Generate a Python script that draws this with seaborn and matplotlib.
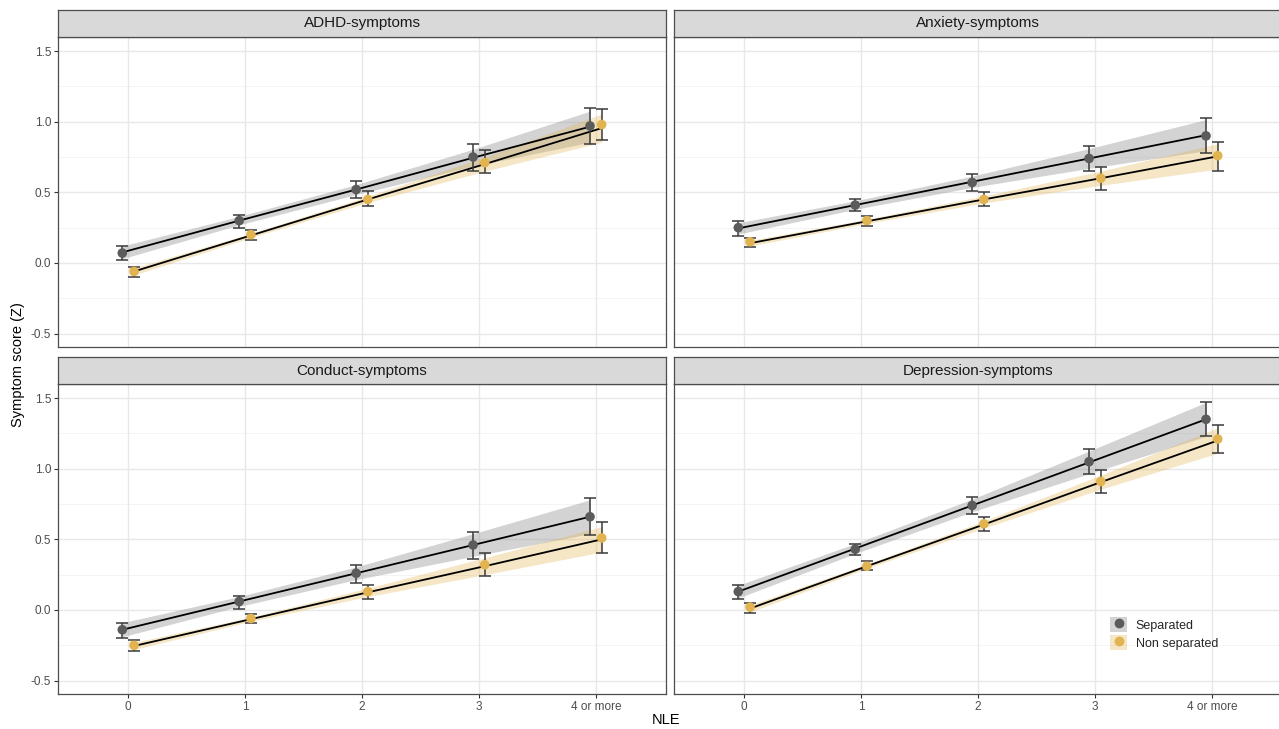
import numpy as np
import pandas as pd
import matplotlib
matplotlib.use("Agg")
import matplotlib.pyplot as plt
from matplotlib.patches import Patch
from matplotlib.lines import Line2D
from matplotlib.legend_handler import HandlerTuple
import seaborn as sns

# ---------------- data ----------------
nle_labels = ["0", "1", "2", "3", "4 or more"]
outcomes = ["ADHD-symptoms", "Anxiety-symptoms", "Conduct-symptoms", "Depression-symptoms"]
groups = ["Separated", "Non separated"]

# observed means and 95% CI (error bars)
adhd_sep_mean = [0.07, 0.30, 0.52, 0.75, 0.97]
adhd_sep_lo = [0.02, 0.25, 0.46, 0.65, 0.84]
adhd_sep_hi = [0.12, 0.34, 0.58, 0.84, 1.10]
adhd_non_mean = [-0.06, 0.20, 0.45, 0.71, 0.98]
adhd_non_lo = [-0.10, 0.16, 0.40, 0.64, 0.87]
adhd_non_hi = [-0.03, 0.23, 0.51, 0.80, 1.09]

anx_sep_mean = [0.25, 0.41, 0.57, 0.74, 0.90]
anx_sep_lo = [0.19, 0.37, 0.51, 0.65, 0.78]
anx_sep_hi = [0.30, 0.45, 0.63, 0.83, 1.03]
anx_non_mean = [0.15, 0.30, 0.45, 0.60, 0.76]
anx_non_lo = [0.11, 0.26, 0.40, 0.52, 0.65]
anx_non_hi = [0.18, 0.33, 0.50, 0.68, 0.86]

cond_sep_mean = [-0.14, 0.06, 0.26, 0.46, 0.66]
cond_sep_lo = [-0.20, 0.01, 0.19, 0.36, 0.53]
cond_sep_hi = [-0.09, 0.10, 0.32, 0.55, 0.79]
cond_non_mean = [-0.25, -0.06, 0.13, 0.32, 0.51]
cond_non_lo = [-0.29, -0.09, 0.08, 0.24, 0.40]
cond_non_hi = [-0.21, -0.03, 0.18, 0.40, 0.62]

dep_sep_mean = [0.13, 0.43, 0.74, 1.05, 1.35]
dep_sep_lo = [0.08, 0.39, 0.68, 0.96, 1.23]
dep_sep_hi = [0.18, 0.47, 0.80, 1.14, 1.47]
dep_non_mean = [0.02, 0.31, 0.61, 0.91, 1.21]
dep_non_lo = [-0.02, 0.28, 0.56, 0.83, 1.11]
dep_non_hi = [0.05, 0.35, 0.66, 0.99, 1.31]

# fitted linear trend and its CI half-width at each NLE level
adhd_sep_fit = [0.075, 0.30, 0.52, 0.745, 0.965]
adhd_sep_ci = [0.045, 0.03, 0.035, 0.06, 0.11]
adhd_non_fit = [-0.06, 0.195, 0.45, 0.70, 0.955]
adhd_non_ci = [0.025, 0.015, 0.022, 0.05, 0.10]

anx_sep_fit = [0.245, 0.41, 0.575, 0.74, 0.905]
anx_sep_ci = [0.04, 0.03, 0.04, 0.07, 0.11]
anx_non_fit = [0.14, 0.295, 0.45, 0.60, 0.755]
anx_non_ci = [0.02, 0.015, 0.025, 0.05, 0.09]

cond_sep_fit = [-0.14, 0.06, 0.26, 0.46, 0.66]
cond_sep_ci = [0.05, 0.035, 0.045, 0.08, 0.12]
cond_non_fit = [-0.255, -0.065, 0.125, 0.31, 0.50]
cond_non_ci = [0.025, 0.015, 0.03, 0.06, 0.09]

dep_sep_fit = [0.13, 0.435, 0.74, 1.045, 1.35]
dep_sep_ci = [0.045, 0.035, 0.045, 0.08, 0.12]
dep_non_fit = [0.01, 0.31, 0.605, 0.905, 1.20]
dep_non_ci = [0.025, 0.015, 0.025, 0.05, 0.09]

y_ticks = [-0.5, 0.0, 0.5, 1.0, 1.5]
y_tick_labels = ["-0.5", "0.0", "0.5", "1.0", "1.5"]

# ---------------- assemble ----------------
series = {
    ("ADHD-symptoms", "Separated"): (adhd_sep_mean, adhd_sep_lo, adhd_sep_hi, adhd_sep_fit, adhd_sep_ci),
    ("ADHD-symptoms", "Non separated"): (adhd_non_mean, adhd_non_lo, adhd_non_hi, adhd_non_fit, adhd_non_ci),
    ("Anxiety-symptoms", "Separated"): (anx_sep_mean, anx_sep_lo, anx_sep_hi, anx_sep_fit, anx_sep_ci),
    ("Anxiety-symptoms", "Non separated"): (anx_non_mean, anx_non_lo, anx_non_hi, anx_non_fit, anx_non_ci),
    ("Conduct-symptoms", "Separated"): (cond_sep_mean, cond_sep_lo, cond_sep_hi, cond_sep_fit, cond_sep_ci),
    ("Conduct-symptoms", "Non separated"): (cond_non_mean, cond_non_lo, cond_non_hi, cond_non_fit, cond_non_ci),
    ("Depression-symptoms", "Separated"): (dep_sep_mean, dep_sep_lo, dep_sep_hi, dep_sep_fit, dep_sep_ci),
    ("Depression-symptoms", "Non separated"): (dep_non_mean, dep_non_lo, dep_non_hi, dep_non_fit, dep_non_ci),
}
dodge = {"Separated": -0.05, "Non separated": 0.05}
rows = []
for (outc, grp), (m, lo, hi, fit, ci) in series.items():
    for i, lab in enumerate(nle_labels):
        rows.append(dict(outcome=outc, group=grp, nle=lab, x=i + dodge[grp],
                         mean=m[i], lo=lo[i], hi=hi[i], fit=fit[i],
                         fit_lo=fit[i] - ci[i], fit_hi=fit[i] + ci[i]))
df = pd.DataFrame(rows)

# ---------------- style ----------------
sns.set_theme(style="white")
plt.rcParams["font.family"] = ["Liberation Sans", "DejaVu Sans"]

point_col = {"Separated": "#5b5b5b", "Non separated": "#E2B451"}
ribbon_col = {"Separated": "#8c8c8c", "Non separated": "#E2B451"}
ribbon_alpha = {"Separated": 0.38, "Non separated": 0.33}

W, H = 1279, 729
fig = plt.figure(figsize=(W / 100, H / 100), dpi=100)

def fx(px):
    return px / W

def fy(py):
    return 1 - py / H

panel_w = 608
panel_h = 310
strip_h = 27
lefts = [58, 674]
tops = [37, 384]

axes = {}
for k, outc in enumerate(outcomes):
    r, c = divmod(k, 2)
    L, T = lefts[c], tops[r]
    ax = fig.add_axes([fx(L), fy(T + panel_h), panel_w / W, panel_h / H])
    sax = fig.add_axes([fx(L), fy(T), panel_w / W, strip_h / H])
    sax.set_facecolor("#d9d9d9")
    sax.set_xticks([]); sax.set_yticks([])
    for s in sax.spines.values():
        s.set_color("#4d4d4d"); s.set_linewidth(0.9)
    sax.text(0.5, 0.5, outc, ha="center", va="center", fontsize=11, color="#1a1a1a",
             transform=sax.transAxes)
    axes[outc] = (ax, r, c)

for outc, (ax, r, c) in axes.items():
    sub = df[df.outcome == outc]
    ax.set_facecolor("white")
    ax.set_xlim(-0.6, 4.6)
    ax.set_ylim(-0.595, 1.6)
    # grid
    for yv in [-0.25, 0.25, 0.75, 1.25]:
        ax.axhline(yv, color="#f3f3f3", lw=0.6, zorder=0)
    for yv in y_ticks:
        ax.axhline(yv, color="#e8e8e8", lw=1.0, zorder=0)
    for xv in range(len(nle_labels)):
        ax.axvline(xv, color="#e8e8e8", lw=1.0, zorder=0)

    for grp in groups:
        g = sub[sub.group == grp]
        ax.fill_between(g.x, g.fit_lo, g.fit_hi, color=ribbon_col[grp],
                        alpha=ribbon_alpha[grp], lw=0, zorder=1)
    sns.lineplot(data=sub, x="x", y="fit", units="group", estimator=None,
                 color="black", lw=1.3, ax=ax, zorder=3, legend=False)
    for grp in groups:
        g = sub[sub.group == grp]
        ax.errorbar(g.x, g["mean"], yerr=[g["mean"] - g.lo, g.hi - g["mean"]],
                    fmt="none", ecolor="#3a3a3a", elinewidth=1.1, capsize=4.3,
                    capthick=1.1, zorder=4)
    sns.scatterplot(data=sub, x="x", y="mean", hue="group", palette=point_col,
                    hue_order=groups, s=48, edgecolor="none", ax=ax, zorder=5,
                    legend=False)

    ax.set_xlabel(""); ax.set_ylabel("")
    ax.set_xticks(range(len(nle_labels)))
    ax.set_yticks(y_ticks)
    if r == 1:
        ax.set_xticklabels(nle_labels, fontsize=8.5, color="#4d4d4d")
        ax.tick_params(axis="x", length=3, width=0.8, color="#333333", pad=2, bottom=True)
    else:
        ax.tick_params(axis="x", bottom=False, labelbottom=False)
    if c == 0:
        ax.set_yticklabels(y_tick_labels, fontsize=8.5, color="#4d4d4d")
        ax.tick_params(axis="y", length=3, width=0.8, color="#333333", pad=2, left=True)
    else:
        ax.tick_params(axis="y", left=False, labelleft=False)
    for s in ax.spines.values():
        s.set_visible(True); s.set_color("#4d4d4d"); s.set_linewidth(0.9)

# legend in the depression panel
ax_dep = axes["Depression-symptoms"][0]
handles = []
for grp in groups:
    patch = Patch(facecolor=ribbon_col[grp], alpha=ribbon_alpha[grp], edgecolor="none")
    dot = Line2D([], [], marker="o", color=point_col[grp], linestyle="none", markersize=6)
    handles.append((patch, dot))
ax_dep.legend(handles, groups, handler_map={tuple: HandlerTuple(ndivide=1, pad=0)},
              loc="center left", bbox_to_anchor=(0.703, 0.195), frameon=False,
              fontsize=9, handlelength=1.35, handleheight=1.45, labelspacing=0.25,
              handletextpad=0.7, borderpad=0.2)

fig.text(fx(18), fy(365), "Symptom score (Z)", rotation=90, ha="center", va="center",
         fontsize=10.5, color="black")
fig.text(fx(666), fy(720), "NLE", ha="center", va="center", fontsize=10.5, color="black")

fig.savefig("out.png", dpi=100, facecolor="white")
